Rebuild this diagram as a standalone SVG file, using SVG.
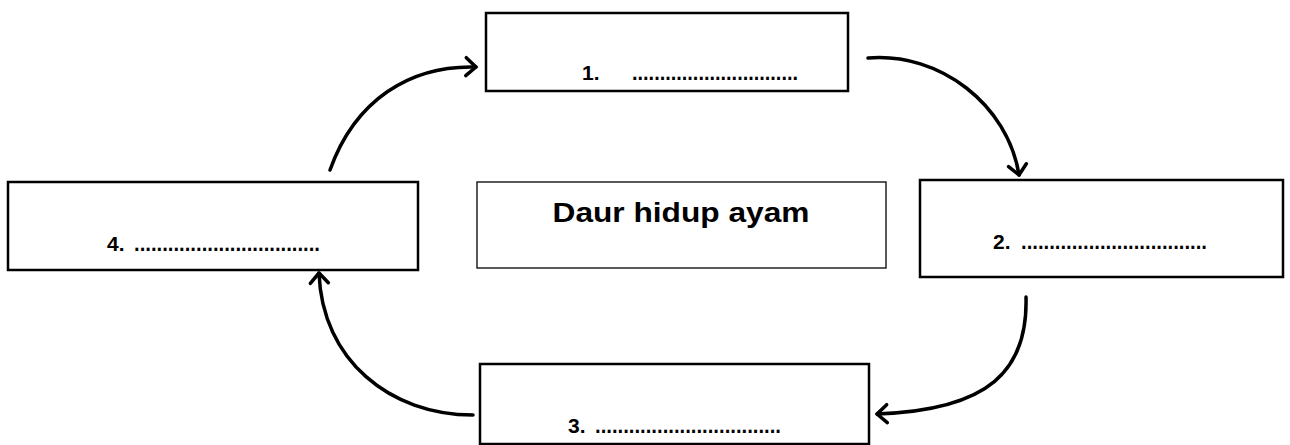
<svg xmlns="http://www.w3.org/2000/svg" width="1290" height="445" viewBox="0 0 1290 445">
<style>
.box{fill:#fff;stroke:#000;stroke-width:2.5}
.center{fill:#fff;stroke:#000;stroke-width:1.3}
.lbl{font-family:"Liberation Sans",Arial,sans-serif;font-weight:bold;font-size:21px;fill:#000}
.dots{font-family:"Liberation Sans",Arial,sans-serif;font-weight:bold;font-size:22px;fill:#000}
.title{font-family:"Liberation Sans",Arial,sans-serif;font-weight:bold;font-size:28px;fill:#000}
.conn{fill:none;stroke:#000;stroke-width:3.5;stroke-linecap:round}
</style>
<defs>
<marker id="ah" markerUnits="userSpaceOnUse" markerWidth="30" markerHeight="30" viewBox="-15 -15 30 30" refX="0" refY="0" orient="auto">
<path d="M-10,-9 L0,0 L-10,9" fill="none" stroke="#000" stroke-width="3.5" stroke-linecap="round" stroke-linejoin="round"/>
</marker>
</defs>
<g id="center">
<rect class="center" x="477" y="182" width="409" height="86"/>
<text class="title" x="681" y="222" text-anchor="middle" textLength="257" lengthAdjust="spacingAndGlyphs">Daur hidup ayam</text>
</g>
<g id="node1">
<rect class="box" x="486" y="13" width="362" height="78"/>
<text class="lbl" x="582" y="80">1.</text>
<text class="dots" x="632" y="80" textLength="166" lengthAdjust="spacingAndGlyphs">..............................</text>
</g>
<g id="node2">
<rect class="box" x="920" y="180" width="363" height="97"/>
<text class="lbl" x="993" y="249">2.</text>
<text class="dots" x="1021" y="249" textLength="186" lengthAdjust="spacingAndGlyphs">.................................</text>
</g>
<g id="node3">
<rect class="box" x="480" y="364" width="389" height="80"/>
<text class="lbl" x="568" y="433">3.</text>
<text class="dots" x="595" y="433" textLength="186" lengthAdjust="spacingAndGlyphs">.................................</text>
</g>
<g id="node4">
<rect class="box" x="8" y="182" width="410" height="88"/>
<text class="lbl" x="107" y="251">4.</text>
<text class="dots" x="134" y="251" textLength="186" lengthAdjust="spacingAndGlyphs">.................................</text>
</g>
<g id="connectors">
<path class="conn" d="M330,170 C355,100 410,65 476,67" marker-end="url(#ah)"/>
<path class="conn" d="M868,58 C940,52 1008,105 1019,175" marker-end="url(#ah)"/>
<path class="conn" d="M1026,297 C1028,370 990,410 877,414" marker-end="url(#ah)"/>
<path class="conn" d="M473,415 C390,415 322,360 319,273" marker-end="url(#ah)"/>
</g>
</svg>
